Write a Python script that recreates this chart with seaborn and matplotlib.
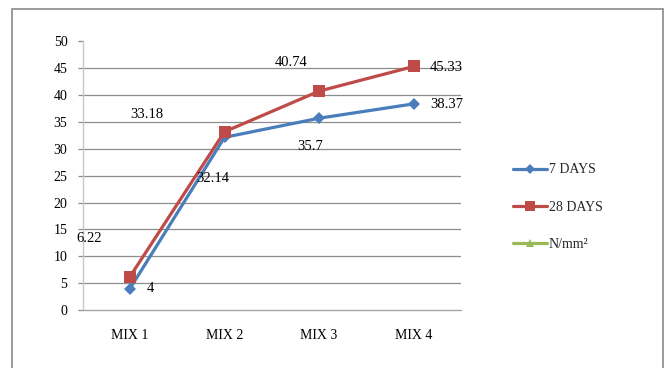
import matplotlib
matplotlib.use("Agg")
import matplotlib.pyplot as plt
from matplotlib.lines import Line2D
from matplotlib.patches import Rectangle
import numpy as np
import pandas as pd
import seaborn as sns

# Compressive strength of the four mixes
mixes = ["MIX 1", "MIX 2", "MIX 3", "MIX 4"]
days_7 = [4, 32.14, 35.7, 38.37]
days_28 = [6.22, 33.18, 40.74, 45.33]
series_names = ["7 DAYS", "28 DAYS", "N/mm\u00b2"]
y_ticks = [0, 5, 10, 15, 20, 25, 30, 35, 40, 45, 50]

colors = {"7 DAYS": "#4A7EBB", "28 DAYS": "#BE4B48", "N/mm\u00b2": "#98B954"}
markers = {"7 DAYS": "D", "28 DAYS": "s", "N/mm\u00b2": "^"}
msize = {"7 DAYS": 6.5, "28 DAYS": 8.5, "N/mm\u00b2": 7}

# label offsets (pixels) relative to each point
label_offsets = {
    "7 DAYS": [(20, 0), (-12, -41), (-9, -28), (33, -1)],
    "28 DAYS": [(-41, 38), (-78, 17), (-28, 29), (33, -1)],
}

df = pd.DataFrame({
    "mix": mixes * 2,
    "strength": days_7 + days_28,
    "series": ["7 DAYS"] * len(mixes) + ["28 DAYS"] * len(mixes),
})

sns.set_theme(style="white")
plt.rcParams["font.family"] = ["Liberation Serif", "DejaVu Serif"]

fig = plt.figure(figsize=(6.65, 3.68), dpi=100)
ax = fig.add_axes([0.1244, 0.1576, 0.5686, 0.7299])

# outer chart border
fig.patches.append(Rectangle((12 / 665, -0.05), (663 - 12) / 665, 1 - 9 / 368 + 0.05,
                             transform=fig.transFigure, fill=False,
                             edgecolor="#8a8a8a", linewidth=1.2, zorder=0))

ax.set_axisbelow(True)
for y in y_ticks[1:-1]:
    ax.axhline(y, color="#8c8c8c", linewidth=0.9, zorder=0)

for name, vals in (("7 DAYS", days_7), ("28 DAYS", days_28)):
    sub = df[df["series"] == name]
    sns.lineplot(data=sub, x="mix", y="strength", ax=ax, sort=False,
                 color=colors[name], marker=markers[name], markersize=msize[name],
                 markeredgecolor=colors[name], markeredgewidth=0,
                 linewidth=2.3, legend=False)
    for i, v in enumerate(vals):
        dx, dy = label_offsets[name][i]
        ax.annotate(f"{v:g}", xy=(i, v), xytext=(dx, dy), textcoords="offset pixels",
                    ha="center", va="center", fontsize=10.5, color="black")

ax.set_xlim(-0.5, 3.5)
ax.set_ylim(0, 50)
ax.set_yticks(y_ticks)
ax.set_xticks(range(len(mixes)))
ax.set_xticklabels(mixes)
ax.set_xticks(np.arange(-0.5, len(mixes), 1.0), minor=True)
ax.tick_params(axis="x", which="major", length=0, pad=14, labelsize=10, colors="black")
ax.tick_params(axis="x", which="minor", length=4, width=0.9, color="#a0a0a0", direction="out")
ax.tick_params(axis="y", which="major", length=3.5, width=0.9, color="#8c8c8c",
               pad=7.5, labelsize=10, labelcolor="black", direction="out", left=True)
ax.set_xlabel("")
ax.set_ylabel("")

for side in ("top", "right"):
    ax.spines[side].set_visible(False)
ax.spines["left"].set_color("#c8c8c8")
ax.spines["left"].set_linewidth(1.0)
ax.spines["bottom"].set_color("#a6a6a6")
ax.spines["bottom"].set_linewidth(1.0)

handles = [Line2D([], [], color=colors[n], marker=markers[n], markersize=msize[n] * 0.8,
                  markeredgewidth=0, linewidth=2.3) for n in series_names]
fig.legend(handles, series_names, loc="center left", bbox_to_anchor=(0.771, 0.437),
           frameon=False, fontsize=10, labelspacing=1.75, handlelength=2.45,
           handletextpad=0.15, borderpad=0, borderaxespad=0)

fig.savefig("out.png", dpi=100)
